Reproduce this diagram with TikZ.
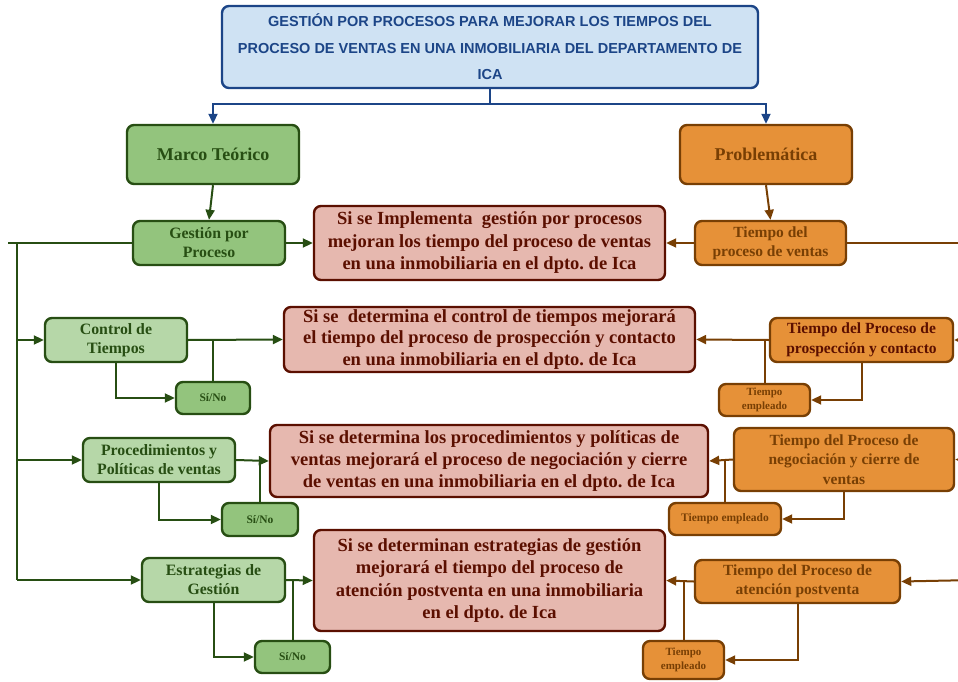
\documentclass[tikz,border=0pt]{standalone}
\usepackage{fontspec}
\setmainfont{Liberation Serif}
\newfontfamily\headfont{Liberation Sans}
\usetikzlibrary{arrows.meta}
\frenchspacing

\begin{document}
\begin{tikzpicture}[x=1pt,y=-1pt,
	box/.style={rounded corners=7pt, line width=2.4pt, align=center, inner sep=2pt, font=\bfseries},
	greenbox/.style={box, draw=GREENLINE, fill=GREEN, text=GREENLINE},
	lightbox/.style={box, draw=GREENLINE, fill=LIGHTGREEN, text=GREENLINE},
	orangebox/.style={box, draw=ORANGELINE, fill=ORANGE, text=ORANGELINE},
	redbox/.style={box, draw=REDLINE, fill=RED, text=REDLINE},
	bluearrow/.style={BLUELINE, line width=2pt, -{Triangle[length=10pt,width=9pt]}},
	greenarrow/.style={GREENLINE, line width=2pt, -{Triangle[length=10pt,width=9pt]}},
	orangearrow/.style={ORANGELINE, line width=2pt, -{Triangle[length=10pt,width=9pt]}},
	greenline/.style={GREENLINE, line width=2pt},
	orangeline/.style={ORANGELINE, line width=2pt}]
	\definecolor{GREEN}{RGB}{147,196,125}
	\definecolor{LIGHTGREEN}{RGB}{182,215,168}
	\definecolor{GREENLINE}{RGB}{39,78,19}
	\definecolor{ORANGE}{RGB}{230,145,56}
	\definecolor{ORANGELINE}{RGB}{120,63,4}
	\definecolor{RED}{RGB}{230,184,175}
	\definecolor{REDLINE}{RGB}{91,15,0}
	\definecolor{BLUE}{RGB}{207,226,243}
	\definecolor{BLUELINE}{RGB}{28,69,135}
	\useasboundingbox (0,0) rectangle (958,682);

	% title
	\node[box, draw=BLUELINE, fill=BLUE, text=BLUELINE, minimum width=536pt, minimum height=82pt,
	font=\headfont\bfseries\fontsize{14.5}{26.5}\selectfont] (title) at (490,47)
	{GESTIÓN POR PROCESOS PARA MEJORAR LOS TIEMPOS DEL\\
	PROCESO DE VENTAS EN UNA INMOBILIARIA DEL DEPARTAMENTO DE\\ICA};

	% two branches
	\node[greenbox, minimum width=172pt, minimum height=59pt, font=\bfseries\fontsize{18}{21}\selectfont]
	(marco) at (213,154.5) {Marco Teórico};
	\node[orangebox, minimum width=172pt, minimum height=59pt, font=\bfseries\fontsize{18}{21}\selectfont]
	(probl) at (766,154.5) {Problemática};

	% hypotheses
	\node[redbox, minimum width=351pt, minimum height=74pt, font=\bfseries\fontsize{18.5}{22.5}\selectfont]
	(red1) at (489.5,243) {Si se Implementa\ \ gestión por procesos\\mejoran los tiempo del proceso de ventas\\en una inmobiliaria en el dpto. de Ica};
	\node[redbox, minimum width=411pt, minimum height=65pt, font=\bfseries\fontsize{18.5}{21.5}\selectfont]
	(red2) at (489.5,339.5) {Si se\ \ determina el control de tiempos mejorará\\el tiempo del proceso de prospección y contacto\\en una inmobiliaria en el dpto. de Ica};
	\node[redbox, minimum width=438pt, minimum height=72pt, font=\bfseries\fontsize{18.5}{22}\selectfont]
	(red3) at (489,461) {Si se determina los procedimientos y políticas de\\ventas mejorará el proceso de negociación y cierre\\de ventas en una inmobiliaria en el dpto. de Ica};
	\node[redbox, minimum width=351pt, minimum height=101pt, font=\bfseries\fontsize{18.5}{22.5}\selectfont]
	(red4) at (489.5,580.5) {Si se determinan estrategias de gestión\\mejorará el tiempo del proceso de\\atención postventa en una inmobiliaria\\en el dpto. de Ica};

	% variables (left)
	\node[greenbox, minimum width=152pt, minimum height=44pt, font=\bfseries\fontsize{15.8}{19}\selectfont]
	(gestion) at (209,243) {Gestión por\\Proceso};
	\node[lightbox, minimum width=142pt, minimum height=44pt, font=\bfseries\fontsize{15.8}{19}\selectfont]
	(control) at (116,340) {Control de\\Tiempos};
	\node[lightbox, minimum width=152pt, minimum height=44pt, font=\bfseries\fontsize{15.8}{19}\selectfont]
	(proced) at (159,460) {Procedimientos y\\Políticas de ventas};
	\node[lightbox, minimum width=143pt, minimum height=44pt, font=\bfseries\fontsize{15.8}{19}\selectfont]
	(estrat) at (213.5,580) {Estrategias de\\Gestión};
	\node[greenbox, minimum width=74pt, minimum height=32pt, font=\bfseries\fontsize{11.5}{14}\selectfont]
	(sino1) at (213,398) {Sí/No};
	\node[greenbox, minimum width=76pt, minimum height=33pt, font=\bfseries\fontsize{11.5}{14}\selectfont]
	(sino2) at (260,519.5) {Sí/No};
	\node[greenbox, minimum width=75pt, minimum height=32pt, font=\bfseries\fontsize{11.5}{14}\selectfont]
	(sino3) at (292.5,657) {Sí/No};

	% variables (right)
	\node[orangebox, minimum width=151pt, minimum height=44pt, font=\bfseries\fontsize{15.5}{19}\selectfont]
	(tventas) at (770.5,243) {Tiempo del\\proceso de ventas};
	\node[orangebox, text=REDLINE, minimum width=183pt, minimum height=44pt, font=\bfseries\fontsize{15.5}{19.5}\selectfont]
	(tprosp) at (861.5,340) {Tiempo del Proceso de\\prospección y contacto};
	\node[orangebox, minimum width=220pt, minimum height=63pt, font=\bfseries\fontsize{15.5}{19.5}\selectfont]
	(tnego) at (844,459.5) {Tiempo del Proceso de\\negociación y cierre de\\ventas};
	\node[orangebox, minimum width=205pt, minimum height=43pt, font=\bfseries\fontsize{15.5}{19.5}\selectfont]
	(taten) at (797.5,581.5) {Tiempo del Proceso de\\atención postventa};
	\node[orangebox, minimum width=91pt, minimum height=32pt, font=\bfseries\fontsize{11}{14}\selectfont]
	(temp1) at (764.5,400) {Tiempo\\empleado};
	\node[orangebox, minimum width=112pt, minimum height=32pt, font=\bfseries\fontsize{11.5}{14}\selectfont]
	(temp2) at (725,519) {Tiempo empleado};
	\node[orangebox, minimum width=81pt, minimum height=38pt, font=\bfseries\fontsize{11}{14}\selectfont]
	(temp3) at (683.5,660) {Tiempo\\empleado};

	% edges
	\coordinate (lt) at (17,243);
	\coordinate (lb) at (17,580);
	\coordinate (l0) at (8,243);
	\coordinate (r1) at (958,243);
	\coordinate (r2) at (975,340);
	\coordinate (r3) at (975,460);
	\coordinate (r4) at (975,580);

	% title to branches
	\draw[BLUELINE, line width=2pt] (title.south) -- ++(0,15) coordinate (tsplit);
	\draw[bluearrow] (tsplit) -| (marco.north);
	\draw[bluearrow] (tsplit) -| (probl.north);

	% green side
	\draw[greenarrow] (marco.south) -- (gestion.north);
	\draw[greenarrow] (gestion.east) -- (red1.west);
	\draw[greenline] (l0) -- (gestion.west);
	\draw[greenline] (lt) -- (lb);
	\draw[greenarrow] (lt |- control.west) -- (control.west);
	\draw[greenarrow] (lt |- proced.west) -- (proced.west);
	\draw[greenarrow] (lb) -- (estrat.west);
	\draw[greenarrow] (control.east) -- (red2.west);
	\draw[greenarrow] (control.south) |- (sino1.west);
	\draw[greenline] (sino1.north) -- (sino1.north |- control.east);
	\draw[greenarrow] (proced.east) -- (red3.west);
	\draw[greenarrow] (proced.south) |- (sino2.west);
	\draw[greenline] (sino2.north) -- (sino2.north |- proced.east);
	\draw[greenarrow] (estrat.east) -- (red4.west);
	\draw[greenarrow] (estrat.south) |- (sino3.west);
	\draw[greenline] (sino3.north) -- (sino3.north |- estrat.east);

	% orange side
	\draw[orangearrow] (probl.south) -- (tventas.north);
	\draw[orangearrow] (tventas.west) -- (red1.east);
	\draw[orangeline] (tventas.east) -- (r1);
	\draw[orangearrow] (r2) -- (tprosp.east);
	\draw[orangearrow] (tprosp.west) -- (red2.east);
	\draw[orangearrow] (tprosp.south) |- (temp1.east);
	\draw[orangeline] (temp1.north) -- (temp1.north |- tprosp.west);
	\draw[orangearrow] (r3) -- (tnego.east);
	\draw[orangearrow] (tnego.west) -- (red3.east);
	\draw[orangearrow] (tnego.south) |- (temp2.east);
	\draw[orangeline] (temp2.north) -- (temp2.north |- tnego.west);
	\draw[orangearrow] (r4) -- (taten.east);
	\draw[orangearrow] (taten.west) -- (red4.east);
	\draw[orangearrow] (taten.south) |- (temp3.east);
	\draw[orangeline] (temp3.north) -- (temp3.north |- taten.west);
\end{tikzpicture}
\end{document}
